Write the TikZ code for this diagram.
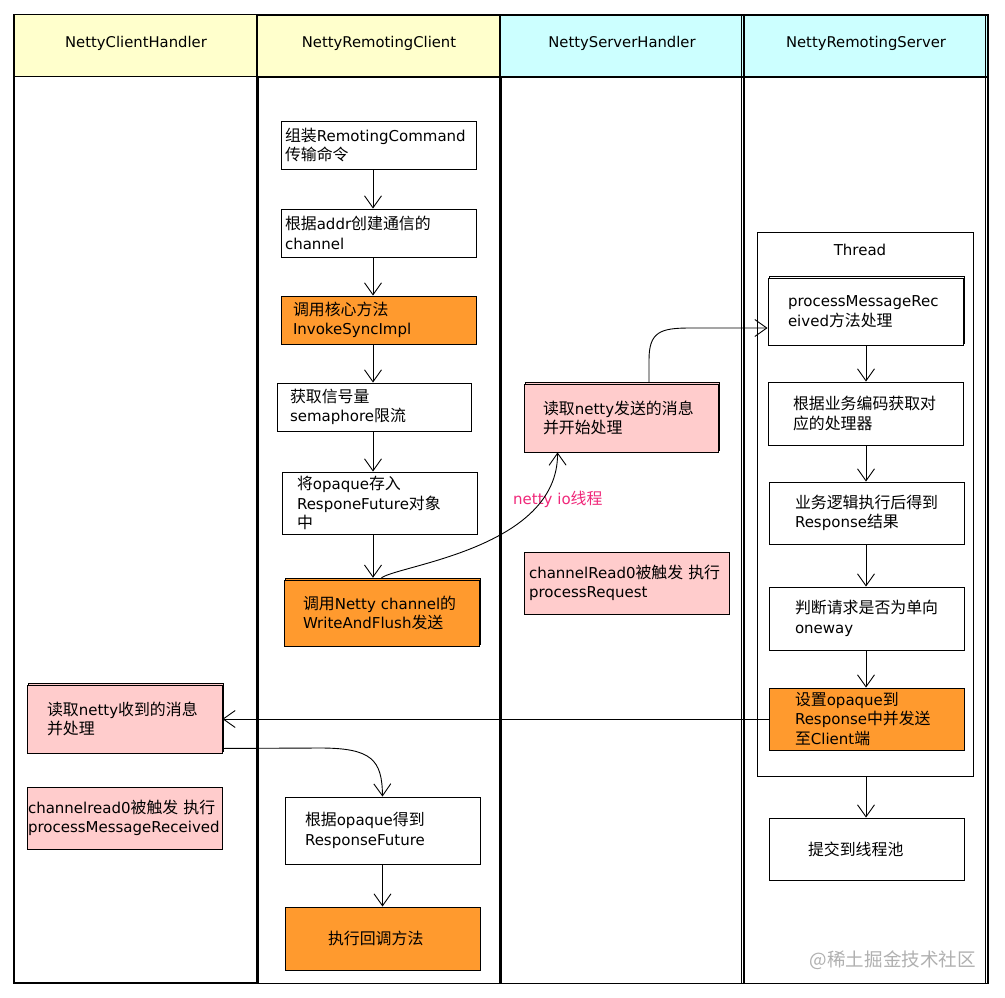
\documentclass[tikz,border=0pt]{standalone}
\usepackage{fontspec}
\setmainfont{DejaVu Sans}
\newfontfamily\cjk[Scale=1.06]{Noto Sans CJK SC}
\newcommand\zh[1]{{\cjk #1}}
\usetikzlibrary{arrows.meta,shadows}
\definecolor{hdyellow}{HTML}{FFFFCC}
\definecolor{hdcyan}{HTML}{CCFFFF}
\definecolor{boxorange}{HTML}{FF9A2E}
\definecolor{boxpink}{HTML}{FFCCCC}
\definecolor{iopink}{HTML}{F0287A}
\definecolor{wmgray}{HTML}{B0B0B0}
\tikzset{
  lanehead/.style={draw=black, line width=1.3pt, minimum width=244pt, minimum height=62pt, inner sep=0pt, text height=11pt, text depth=8pt, font=\fontsize{14.8}{18}\selectfont},
  lanebody/.style={draw=black, line width=1.3pt, minimum width=244pt, minimum height=907pt, inner sep=0pt},
  flowbox/.style={draw=black, line width=0.9pt, fill=white, align=left, inner ysep=0pt, font=\fontsize{15}{19.5}\selectfont},
  orangebox/.style={flowbox, fill=boxorange},
  pinkbox/.style={flowbox, fill=boxpink},
  stacked/.style={general shadow={draw=black, line width=0.9pt, fill=#1, shadow xshift=1.8pt, shadow yshift=1.8pt}},
  arr/.style={draw=black, line width=0.9pt, -{Straight Barb[length=12pt,width=17pt,line width=0.9pt]}},
}
\begin{document}
\begin{tikzpicture}[x=1pt,y=-1pt]
\useasboundingbox (0,0) rectangle (1005,997);
\fill[white] (0,0) rectangle (1005,997);
% lanes
\node[lanebody] (l1) at (136,529.5) {};
\node[lanebody] (l2) at (379,530) {};
\node[lanebody] (l3) at (622,530) {};
\node[lanebody] (l4) at (866,530) {};
\node[lanehead, fill=hdyellow] (h1) at (136,45.5) {NettyClientHandler};
\node[lanehead, fill=hdyellow] (h2) at (379,46) {NettyRemotingClient};
\node[lanehead, fill=hdcyan] (h3) at (622,46) {NettyServerHandler};
\node[lanehead, fill=hdcyan] (h4) at (866,46) {NettyRemotingServer};
\draw[line width=1pt] ([xshift=-3pt]h3.north east) -- ([xshift=-3pt]l3.south east);
\draw[line width=1pt] ([xshift=-3pt]h4.north east) -- ([xshift=-3pt]l4.south east);
% thread container
\node[draw=black, line width=0.9pt, minimum width=216pt, minimum height=544pt, inner sep=0pt] (th) at (865,504) {};
\node[font=\fontsize{15}{18}\selectfont, inner sep=0pt] (thl) at (860,250) {Thread};
% lane 2 client boxes
\node[flowbox, minimum height=48pt, text width=187pt, inner xsep=4pt] (b1) at (378.5,145) {\zh{组装}RemotingCommand\\\zh{传输命令}};
\node[flowbox, minimum height=48pt, text width=187pt, inner xsep=4pt] (b2) at (378.5,233) {\zh{根据}addr\zh{创建通信的}\\channel};
\node[orangebox, minimum height=48pt, text width=171pt, inner xsep=12pt] (b3) at (378.5,320) {\zh{调用核心方法}\\InvokeSyncImpl};
\node[flowbox, minimum height=48pt, text width=168pt, inner xsep=13pt] (b4) at (374,407) {\zh{获取信号量}\\semaphore\zh{限流}};
\node[flowbox, minimum height=62pt, text width=165pt, inner xsep=15pt] (b5) at (379.5,503) {\zh{将}opaque\zh{存入}\\ResponeFuture\zh{对象}\\\zh{中}};
\node[orangebox, stacked=boxorange, minimum height=66pt, text width=157pt, inner xsep=19pt] (b6) at (381.5,613) {\zh{调用}Netty~channel\zh{的}\\WriteAndFlush\zh{发送}};
\node[flowbox, minimum height=67pt, text width=155pt, inner xsep=20pt] (c1) at (382.5,830.5) {\zh{根据}opaque\zh{得到}\\ResponseFuture};
\node[orangebox, minimum height=63pt, text width=109pt, inner xsep=43pt] (c2) at (382.5,938.5) {\zh{执行回调方法}};
% lane 3 server handler boxes
\node[pinkbox, stacked=boxpink, minimum height=68pt, text width=156pt, inner xsep=19pt] (p1) at (621,418) {\zh{读取}netty\zh{发送的消息}\\\zh{并开始处理}};
\node[pinkbox, minimum height=62pt, text width=195pt, inner xsep=5pt] (p2) at (626.5,583) {channelRead0\zh{被触发}~\zh{执行}\\processRequest};
\node[font=\fontsize{15}{18}\selectfont, text=iopink, inner sep=0pt, anchor=west] (iol) at (513,499) {netty~io\zh{线程}};
% lane 4 server boxes
\node[flowbox, stacked=white, minimum height=67pt, text width=155pt, inner xsep=20pt] (r1) at (865.5,311.5) {processMessageRec\\eived\zh{方法处理}};
\node[flowbox, minimum height=63pt, text width=145pt, inner xsep=25pt] (r2) at (865.5,413.5) {\zh{根据业务编码获取对}\\\zh{应的处理器}};
\node[flowbox, minimum height=62pt, text width=143pt, inner xsep=26pt] (r3) at (866.5,513) {\zh{业务逻辑执行后得到}\\Response\zh{结果}};
\node[flowbox, minimum height=63pt, text width=143pt, inner xsep=26pt] (r4) at (866.5,618.5) {\zh{判断请求是否为单向}\\oneway};
\node[orangebox, minimum height=62pt, text width=143pt, inner xsep=26pt] (r5) at (866.5,719) {\zh{设置}opaque\zh{到}\\Response\zh{中并发送}\\\zh{至}Client\zh{端}};
\node[flowbox, minimum height=62pt, text width=117pt, inner xsep=39pt] (r6) at (866.5,849) {\zh{提交到线程池}};
% lane 1 client handler boxes
\node[pinkbox, stacked=boxpink, minimum height=68pt, text width=155pt, inner xsep=20pt] (q1) at (124.5,719) {\zh{读取}netty\zh{收到的消息}\\\zh{并处理}};
\node[pinkbox, minimum height=62pt, text width=193pt, inner xsep=1pt] (q2) at (124.5,818) {channelread0\zh{被触发}~\zh{执行}\\processMessageReceived};
% watermark
\node[font=\cjk\fontsize{17.5}{20}\selectfont, text=wmgray, inner sep=0pt, anchor=east] (wm) at (976,960) {@稀土掘金技术社区};
% arrow guide coordinates
\coordinate (ax2) at (373,0);
\coordinate (ax4) at (866,0);
% lane 2 arrows
\draw[arr] (b1.south -| ax2) -- (b2.north -| ax2);
\draw[arr] (b2.south -| ax2) -- (b3.north -| ax2);
\draw[arr] (b3.south -| ax2) -- (b4.north -| ax2);
\draw[arr] (b4.south -| ax2) -- (b5.north -| ax2);
\draw[arr] (b5.south -| ax2) -- ([yshift=1.8pt]b6.north -| ax2);
\draw[arr] (c1) -- (c2);
% lane 4 arrows
\draw[arr] (r1.south -| ax4) -- (r2.north -| ax4);
\draw[arr] (r2.south -| ax4) -- (r3.north -| ax4);
\draw[arr] (r3.south -| ax4) -- (r4.north -| ax4);
\draw[arr] (r4.south -| ax4) -- (r5.north -| ax4);
\draw[arr] (th.south -| ax4) -- (r6.north -| ax4);
% cross-lane connectors
\draw[arr] ([yshift=1.8pt]b6.north) .. controls (400,565) and (558,548) .. ([xshift=34pt]p1.south west);
\draw[arr] ([xshift=28pt,yshift=1.8pt]p1.north) -- (649,360) .. controls (649,332) and (660,328) .. (690,328) -- ([yshift=-16.5pt]r1.west);
\draw[arr] (r5.west) -- (r5.west -| q1.east);
\draw[arr] ([yshift=5pt]q1.south east) -- (320,748) .. controls (372,748) and (382,760) .. (c1.north);
\end{tikzpicture}
\end{document}
